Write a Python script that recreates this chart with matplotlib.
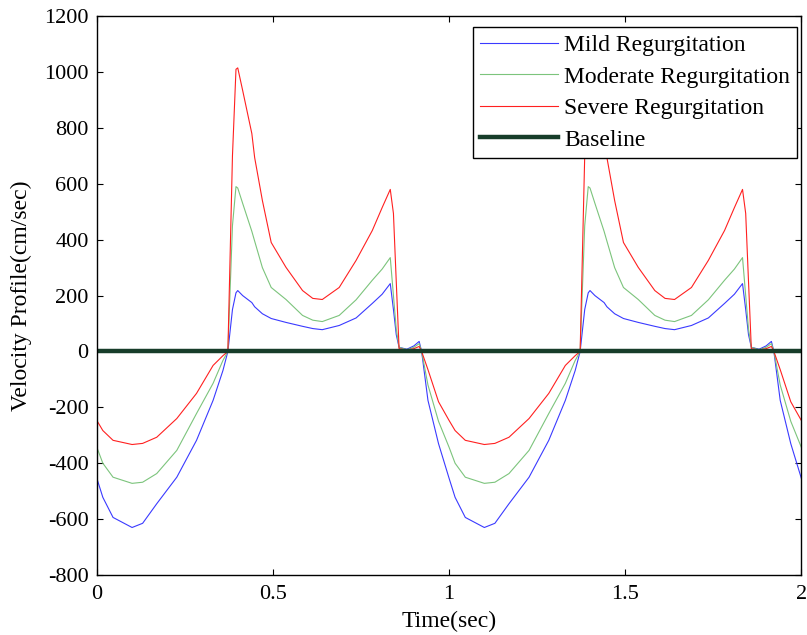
import numpy as np
import matplotlib
matplotlib.use("Agg")
import matplotlib.pyplot as plt

plt.rcParams['font.family'] = ['Liberation Serif', 'DejaVu Serif']
plt.rcParams['axes.unicode_minus'] = False

# one heart cycle (sec); the plot shows two cycles
t_cycle = [0, 0.017, 0.046, 0.10, 0.13, 0.17, 0.227, 0.283, 0.33, 0.358,
           0.372, 0.385, 0.395, 0.40, 0.414, 0.44, 0.448, 0.47, 0.495, 0.537,
           0.584, 0.613, 0.64, 0.688, 0.736, 0.782, 0.81, 0.833, 0.842, 0.85,
           0.858, 0.88, 0.90, 0.915, 0.922, 0.94, 0.97, 1.0]

mild = [-454, -522, -594, -630, -615, -545, -450, -318, -175, -68,
        0, 150, 210, 218, 200, 175, 160, 135, 118, 104,
        90, 82, 78, 93, 120, 172, 205, 243, 150, 60,
        15, 8, 20, 36, 0, -175, -330, -454]

moderate = [-343, -400, -450, -472, -468, -437, -354, -222, -114, -32,
            0, 450, 590, 585, 530, 430, 395, 300, 229, 186,
            129, 112, 107, 129, 185, 255, 295, 336, 200, 80,
            15, 6, 15, 28, 0, -120, -250, -343]

severe = [-247, -283, -318, -333, -329, -307, -240, -150, -50, -15,
          0, 700, 1010, 1015, 934, 780, 694, 540, 390, 301,
          218, 190, 186, 229, 326, 433, 515, 580, 494, 250,
          10, 5, 10, 18, 0, -65, -180, -247]

n_cycles = 2


def two_cycles(v):
    v = np.asarray(v, dtype=float)
    return np.concatenate([v] + [v[1:]] * (n_cycles - 1))


tc = np.asarray(t_cycle)
t = np.concatenate([tc] + [tc[1:] + k for k in range(1, n_cycles)])

fig = plt.figure(figsize=(8.07, 6.35), dpi=100)
ax = fig.add_axes([0.120, 0.0945, 0.873, 0.880])

ax.plot(t, two_cycles(mild), color='#3a3aff', lw=0.8, label='Mild Regurgitation')
ax.plot(t, two_cycles(moderate), color='#7cc47c', lw=0.8, label='Moderate Regurgitation')
ax.plot(t, two_cycles(severe), color='#ff2020', lw=0.8, label='Severe Regurgitation')
ax.plot([0, 2], [0, 0], color='#173d2a', lw=3.2, label='Baseline')

ax.set_xlim(0, 2)
ax.set_ylim(-800, 1200)
ax.set_xticks([0, 0.5, 1, 1.5, 2])
ax.set_xticklabels(['0', '0.5', '1', '1.5', '2'])
ax.set_yticks(np.arange(-800, 1201, 200))
ax.tick_params(direction='in', length=4, width=0.8, top=True, right=True,
               labelsize=16)
ax.tick_params(axis='y', pad=6)
ax.tick_params(axis='x', pad=7)
for s in ax.spines.values():
    s.set_linewidth(1.0)

ax.set_xlabel('Time(sec)', fontsize=17, labelpad=5)
ax.set_ylabel('Velocity Profile(cm/sec)', fontsize=17, labelpad=9)

leg = ax.legend(loc='upper right', bbox_to_anchor=(1 - 4 / 706, 1 - 11 / 559),
                borderaxespad=0, fontsize=17, handlelength=3.3,
                handletextpad=0.25, labelspacing=0.42, borderpad=0.32,
                fancybox=False, framealpha=1, edgecolor='black')
leg.get_frame().set_linewidth(1.0)

fig.savefig('out.png', dpi=100)
